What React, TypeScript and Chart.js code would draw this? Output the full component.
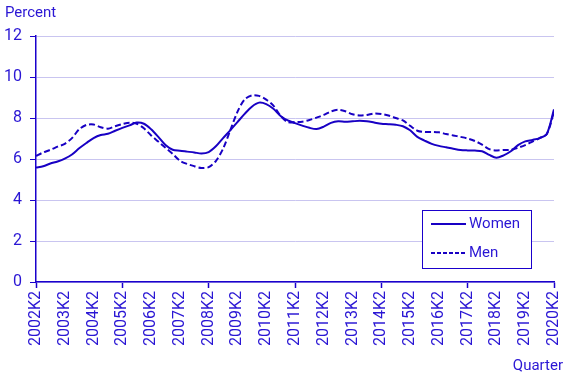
import React, { useEffect, useRef } from "react";
import { Chart, registerables } from "chart.js";

Chart.register(...registerables);

const yearTicks = [
  "2002K2", "2003K2", "2004K2", "2005K2", "2006K2", "2007K2", "2008K2", "2009K2", "2010K2", "2011K2",
  "2012K2", "2013K2", "2014K2", "2015K2", "2016K2", "2017K2", "2018K2", "2019K2", "2020K2",
];

const women = [
  5.58, 5.65, 5.78, 5.88, 6.02, 6.22, 6.52, 6.78, 7.02, 7.17,
  7.23, 7.38, 7.52, 7.64, 7.78, 7.72, 7.45, 7.08, 6.68, 6.45,
  6.4, 6.36, 6.32, 6.27, 6.34, 6.62, 7.02, 7.4, 7.8, 8.2,
  8.55, 8.75, 8.68, 8.45, 8.1, 7.88, 7.75, 7.63, 7.52, 7.46,
  7.58, 7.76, 7.84, 7.82, 7.84, 7.86, 7.84, 7.78, 7.72, 7.7,
  7.67, 7.6, 7.4, 7.08, 6.9, 6.74, 6.64, 6.57, 6.5, 6.44,
  6.42, 6.41, 6.38, 6.2, 6.06, 6.18, 6.38, 6.68, 6.86, 6.93,
  7.02, 7.22, 8.42,
];

const men = [
  6.15, 6.32, 6.45, 6.6, 6.74, 7.02, 7.45, 7.66, 7.68, 7.55,
  7.48, 7.6, 7.7, 7.77, 7.72, 7.5, 7.15, 6.85, 6.55, 6.25,
  5.92, 5.76, 5.65, 5.56, 5.6, 5.9, 6.5, 7.4, 8.3, 8.9,
  9.1, 9.08, 8.9, 8.6, 8.1, 7.8, 7.8, 7.82, 7.9, 8.02,
  8.15, 8.32, 8.4, 8.33, 8.18, 8.12, 8.15, 8.22, 8.2, 8.12,
  8.0, 7.88, 7.62, 7.38, 7.32, 7.32, 7.3, 7.22, 7.15, 7.08,
  7.0, 6.88, 6.7, 6.48, 6.42, 6.44, 6.45, 6.55, 6.68, 6.85,
  7.02, 7.22, 8.3,
];

const seriesNames = ["Women", "Men"];
const yTitle = "Percent";
const xTitle = "Quarter";

const LINE = "#1800c4";
const AXIS = "#1a00cc";
const TEXT = "#2a16d4";
const GRID = "#c9c5f0";
const FONT = "Roboto, 'Liberation Sans', Arial, sans-serif";

const extrasPlugin = {
  id: "extras",
  afterDraw(chart: any) {
    const ctx = chart.ctx;
    ctx.save();
    ctx.font = `15px ${FONT}`;
    ctx.fillStyle = TEXT;
    ctx.textBaseline = "middle";
    ctx.textAlign = "left";
    ctx.fillText(yTitle, 5, 13);
    ctx.textAlign = "right";
    ctx.fillText(xTitle, 563, 366);

    // legend box
    const bx = 422.5, by = 210.5, bw = 109, bh = 58;
    ctx.fillStyle = "#ffffff";
    ctx.fillRect(bx, by, bw, bh);
    ctx.strokeStyle = AXIS;
    ctx.lineWidth = 1;
    ctx.strokeRect(bx, by, bw, bh);
    const rows = [224, 253];
    ctx.font = `15px ${FONT}`;
    seriesNames.forEach((name, i) => {
      ctx.beginPath();
      ctx.strokeStyle = LINE;
      ctx.lineWidth = 2;
      ctx.setLineDash(i === 1 ? [4, 2] : []);
      ctx.moveTo(431, rows[i]);
      ctx.lineTo(466, rows[i]);
      ctx.stroke();
      ctx.setLineDash([]);
      ctx.fillStyle = TEXT;
      ctx.textAlign = "left";
      ctx.fillText(name, 469, rows[i]);
    });
    ctx.restore();
  },
};

export default function App() {
  const ref = useRef<HTMLCanvasElement>(null);

  useEffect(() => {
    document.body.style.margin = "0";
    const categories: string[] = [];
    yearTicks.forEach((t, i) => {
      categories.push(t);
      if (i < yearTicks.length - 1) {
        const y = t.slice(0, 4);
        const ny = String(Number(y) + 1);
        categories.push(`${y}K3`, `${y}K4`, `${ny}K1`);
      }
    });
    const toPts = (arr: number[]) => arr.map((v, i) => ({ x: i, y: v }));
    const chart = new Chart(ref.current as HTMLCanvasElement, {
      type: "line",
      data: {
        datasets: [
          {
            label: seriesNames[0],
            data: toPts(women),
            borderColor: LINE,
            borderWidth: 2,
            pointRadius: 0,
            tension: 0.3,
            fill: false,
          },
          {
            label: seriesNames[1],
            data: toPts(men),
            borderColor: LINE,
            borderWidth: 2,
            borderDash: [6, 3],
            pointRadius: 0,
            tension: 0.3,
            fill: false,
          },
        ],
      },
      options: {
        animation: false,
        responsive: false,
        layout: { padding: { top: 36, right: 13, left: 0, bottom: 0 } },
        plugins: { legend: { display: false }, tooltip: { enabled: false } },
        scales: {
          x: {
            type: "linear",
            min: 0,
            max: 72,
            afterFit: (s: any) => {
              s.height = 96;
              s.paddingLeft = 0;
              s.paddingRight = 0;
            },
            afterBuildTicks: (s: any) => {
              s.ticks = yearTicks.map((_, i) => ({ value: i * 4 }));
            },
            ticks: {
              color: TEXT,
              font: { family: FONT, size: 16 },
              minRotation: 90,
              maxRotation: 90,
              padding: 3,
              autoSkip: false,
              callback: (v: any) => categories[v],
            },
            grid: {
              drawOnChartArea: false,
              tickLength: 6,
              tickColor: (c: any) => (c.tick && c.tick.value % 12 === 0 ? AXIS : "rgba(0,0,0,0)"),
              tickWidth: 1.5,
            },
            border: { color: AXIS, width: 1.5 },
          },
          y: {
            min: 0,
            max: 12,
            afterFit: (s: any) => {
              s.width = 36;
              s.paddingTop = 0;
              s.paddingBottom = 0;
            },
            ticks: {
              stepSize: 2,
              color: TEXT,
              font: { family: FONT, size: 16 },
              padding: 8,
            },
            grid: {
              color: GRID,
              tickColor: AXIS,
              tickLength: 6,
              lineWidth: 1,
            },
            border: { color: AXIS, width: 1.5 },
          },
        },
      },
      plugins: [extrasPlugin],
    });
    return () => chart.destroy();
  }, []);

  return (
    <div style={{ width: 567, height: 378 }}>
      <canvas ref={ref} width={567} height={378} style={{ width: 567, height: 378 }} />
    </div>
  );
}
